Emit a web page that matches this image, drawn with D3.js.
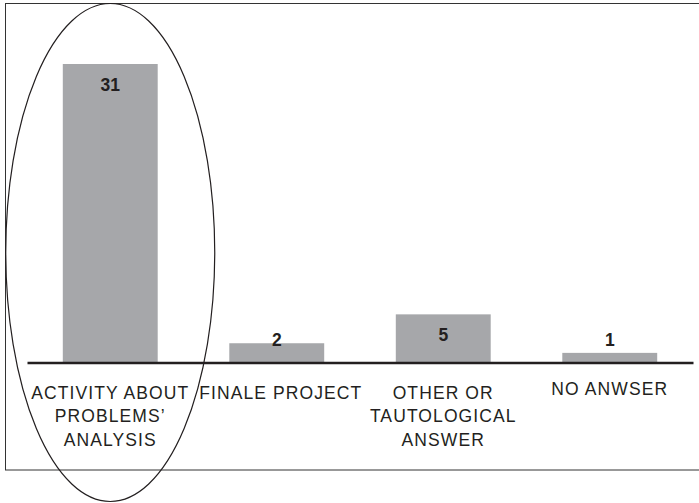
<!DOCTYPE html>
<html>
<head>
<meta charset="utf-8">
<script src="https://cdn.jsdelivr.net/npm/d3@7"></script>
<style>
  html, body { margin: 0; padding: 0; background: #fff; }
  svg { display: block; }
  text { font-family: "Liberation Sans", Arial, Helvetica, sans-serif; fill: #231f20; }
</style>
</head>
<body>
<svg id="chart" width="699" height="503"></svg>
<script>
const categories = ["ACTIVITY ABOUT|PROBLEMS’|ANALYSIS", "FINALE PROJECT", "OTHER OR|TAUTOLOGICAL|ANSWER", "NO ANWSER"];
const values = [31, 2, 5, 1];

const svg = d3.select("#chart");

// frame
svg.append("rect")
  .attr("x", 5.5).attr("y", 3.5)
  .attr("width", 720).attr("height", 466.5)
  .attr("fill", "none").attr("stroke", "#333").attr("stroke-width", 1);

const baseY = 362.5;
const x = d3.scaleBand().domain(categories).range([27, 693]).paddingInner(0.43).paddingOuter(0.215);
const y = d3.scaleLinear().domain([0, 31]).range([baseY, 64]);

const data = categories.map((c, i) => ({ c, v: values[i] }));

svg.selectAll("rect.bar").data(data).enter().append("rect")
  .attr("class", "bar")
  .attr("x", d => x(d.c))
  .attr("y", d => y(d.v))
  .attr("width", x.bandwidth())
  .attr("height", d => baseY - y(d.v))
  .attr("fill", "#a6a7aa");

// baseline axis
const axis = d3.axisBottom(x).tickSize(0).tickFormat("");
const ag = svg.append("g").attr("transform", `translate(0,${baseY})`).call(axis);
ag.select(".domain").attr("stroke", "#231f20").attr("stroke-width", 2.6);

// value labels
svg.selectAll("text.val").data(data).enter().append("text")
  .attr("class", "val")
  .attr("x", d => x(d.c) + x.bandwidth() / 2)
  .attr("y", d => Math.min(y(d.v) + 26.5, baseY - 16.5))
  .attr("text-anchor", "middle")
  .attr("font-size", 17.5)
  .attr("font-weight", "bold")
  .text(d => d.v);

// category labels
const lab = svg.selectAll("text.cat").data(data).enter().append("text")
  .attr("class", "cat")
  .attr("text-anchor", "middle")
  .attr("font-size", 17.5)
  .attr("letter-spacing", 1.1)
  .attr("x", d => x(d.c) + x.bandwidth() / 2)
  .attr("y", (d, i) => i === 3 ? 395 : 398.5);
lab.each(function(d, i) {
  const t = d3.select(this);
  const cx = x(d.c) + x.bandwidth() / 2 + (i === 1 ? 4 : 0);
  d.c.split("|").forEach((line, j) => {
    t.append("tspan")
      .attr("x", cx)
      .attr("dy", j === 0 ? 0 : 23.5)
      .text(line);
  });
});

// highlight ellipse
svg.append("ellipse")
  .attr("cx", x(categories[0]) + x.bandwidth() / 2)
  .attr("cy", 252.5)
  .attr("rx", 104.5)
  .attr("ry", 249)
  .attr("fill", "none")
  .attr("stroke", "#231f20")
  .attr("stroke-width", 1.2);
</script>
</body>
</html>
